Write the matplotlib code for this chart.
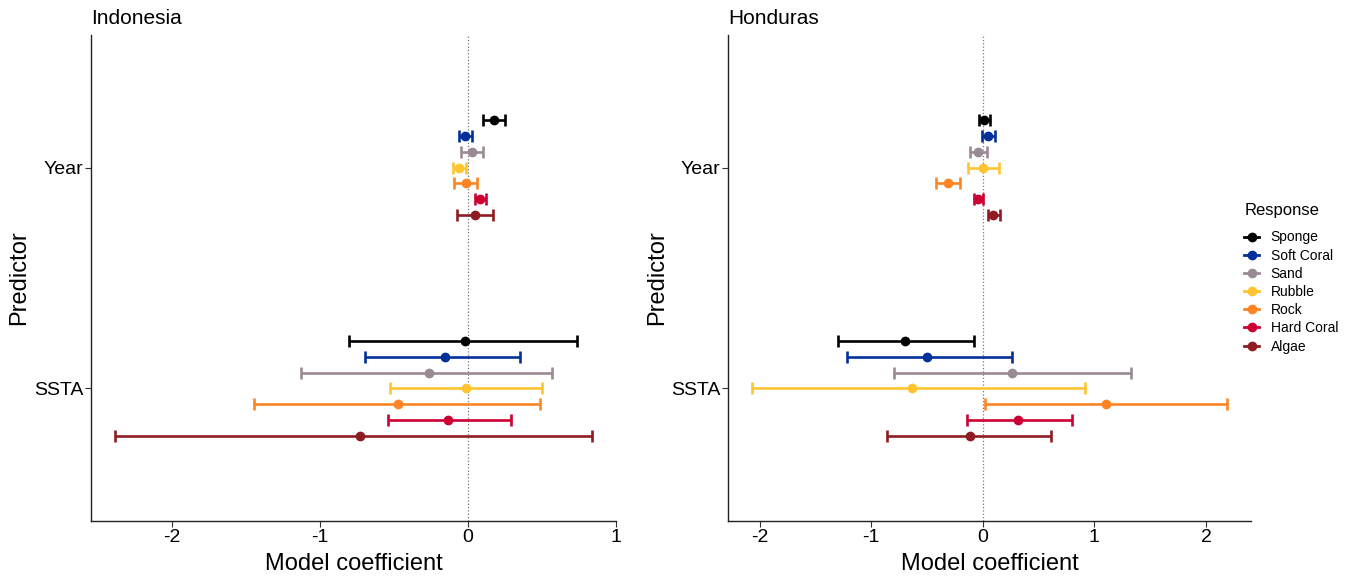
import numpy as np
import matplotlib
matplotlib.use('Agg')
import matplotlib.pyplot as plt
from matplotlib.lines import Line2D

plt.rcParams['font.family'] = ['Liberation Sans', 'DejaVu Sans']

responses = ['Sponge', 'Soft Coral', 'Sand', 'Rubble', 'Rock', 'Hard Coral', 'Algae']
colors = ['#000000', '#00309A', '#9A8A95', '#FFC530', '#FF8424', '#CC0033', '#8E1C22']
predictors = ['SSTA', 'Year']

# Indonesia: estimate, lower, upper
indo_year = [0.178, -0.016, 0.029, -0.061, -0.014, 0.086, 0.047]
indo_year_lo = [0.106, -0.056, -0.043, -0.101, -0.090, 0.049, -0.074]
indo_year_hi = [0.252, 0.027, 0.101, -0.014, 0.063, 0.122, 0.171]
indo_ssta = [-0.016, -0.153, -0.261, -0.009, -0.468, -0.131, -0.730]
indo_ssta_lo = [-0.804, -0.694, -1.124, -0.525, -1.446, -0.538, -2.383]
indo_ssta_hi = [0.741, 0.356, 0.570, 0.502, 0.491, 0.293, 0.840]

# Honduras
hond_year = [0.012, 0.051, -0.042, 0.006, -0.310, -0.042, 0.095]
hond_year_lo = [-0.036, -0.003, -0.116, -0.131, -0.420, -0.083, 0.045]
hond_year_hi = [0.062, 0.110, 0.042, 0.146, -0.200, 0.003, 0.152]
hond_ssta = [-0.696, -0.500, 0.262, -0.634, 1.101, 0.315, -0.110]
hond_ssta_lo = [-1.295, -1.220, -0.792, -2.069, 0.024, -0.140, -0.854]
hond_ssta_hi = [-0.078, 0.259, 1.324, 0.913, 2.190, 0.795, 0.613]

panels = [
    ('Indonesia', (indo_ssta, indo_ssta_lo, indo_ssta_hi), (indo_year, indo_year_lo, indo_year_hi)),
    ('Honduras', (hond_ssta, hond_ssta_lo, hond_ssta_hi), (hond_year, hond_year_lo, hond_year_hi)),
]


def draw_panel(ax, title, ssta, year):
    n = len(responses)
    offsets = (np.arange(n)[::-1] - (n - 1) / 2) * 0.5 / n
    ax.axvline(0, color='#777777', linestyle=':', linewidth=0.9, zorder=0)
    allv = []
    for p, (est, lo, hi) in enumerate([ssta, year]):
        base = p + 1
        for i in range(n):
            y = base + offsets[i]
            ax.errorbar(est[i], y, xerr=[[est[i] - lo[i]], [hi[i] - est[i]]],
                        fmt='o', color=colors[i], markersize=6, elinewidth=1.9,
                        capsize=4.3, capthick=1.9)
            allv += [lo[i], hi[i]]
    lo_, hi_ = min(allv), max(allv)
    pad = (hi_ - lo_) * 0.05
    x0, x1 = lo_ - pad, hi_ + pad
    ax.set_ylim(0.4, 2.6)
    ax.set_yticks([1, 2])
    ax.set_yticklabels(predictors)
    ticks = [t for t in range(-2, 3) if x0 - 0.01 <= t <= x1 + 0.01]
    ax.set_xticks(ticks)
    ax.set_xticklabels([str(t) for t in ticks])
    ax.set_xlim(x0, x1)
    ax.spines['top'].set_visible(False)
    ax.spines['right'].set_visible(False)
    for s in ['left', 'bottom']:
        ax.spines[s].set_linewidth(1.0)
        ax.spines[s].set_color('#222222')
    ax.tick_params(axis='both', labelsize=14, length=4, width=0.8, color='#333333',
                   labelcolor='black', pad=1.5)
    ax.set_xlabel('Model coefficient', fontsize=17, labelpad=5)
    ax.set_ylabel('Predictor', fontsize=17)
    ax.yaxis.set_label_coords(-0.115, 0.5)
    ax.set_title(title, fontsize=15, loc='left', pad=8)


fig = plt.figure(figsize=(13.52, 5.79), dpi=100)
ax1 = fig.add_axes([0.0673, 0.1002, 0.3883, 0.8394])
ax2 = fig.add_axes([0.5385, 0.1002, 0.3868, 0.8394])
for ax, (title, ssta, year) in zip([ax1, ax2], panels):
    draw_panel(ax, title, ssta, year)

fig.text(0.9205, 1 - 210 / 579, 'Response', fontsize=12, ha='left', va='center')
handles = [Line2D([0], [0], color=c, marker='o', markersize=6, linewidth=2.0) for c in colors]
leg = fig.legend(handles, responses, loc='upper left', bbox_to_anchor=(0.911, 1 - 218 / 579),
                 frameon=False, fontsize=10,
                 handlelength=1.1, handletextpad=0.8, labelspacing=0.3)

fig.savefig('out.png', dpi=100)
